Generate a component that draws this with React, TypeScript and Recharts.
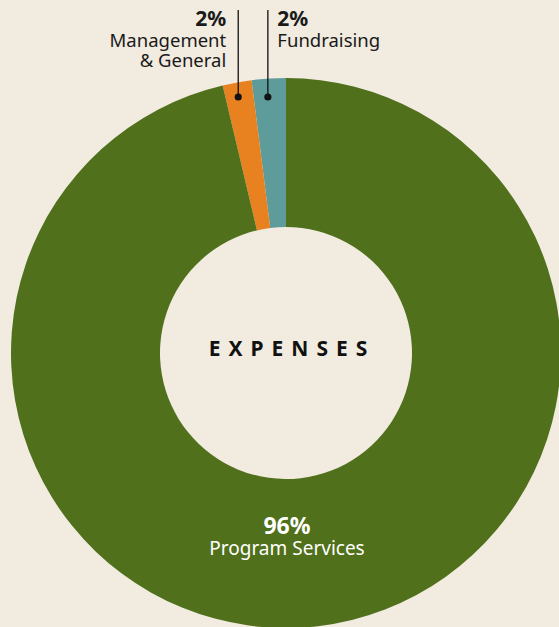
import React from "react";
import { PieChart, Pie, Cell } from "recharts";

const categories = ["Fundraising", "Management & General", "Program Services"];
const values = [2, 1.7, 96.3];
const pctLabels = ["2%", "2%", "96%"];
const colors = ["#5e9c9c", "#e8811f", "#50701b"];
const centerTitle = "EXPENSES";

const data = categories.map((name, i) => ({ name, value: values[i] }));

const RADIAN = Math.PI / 180;
const FONT = "'Noto Sans', sans-serif";

const renderLabel = (props: any) => {
  const { cx, cy, midAngle, innerRadius, outerRadius, index } = props;
  if (index === 2) {
    const r = (innerRadius + outerRadius) / 2;
    const y = cy + r;
    return (
      <g>
        <text x={cx + 6} y={cy + 3} textAnchor="middle" fill="#111" fontFamily={FONT} fontWeight={700} fontSize={21} style={{ letterSpacing: 8 }}>
          {centerTitle}
        </text>
        <text x={cx + 1} y={y - 20} textAnchor="middle" fill="#fff" fontFamily={FONT} fontWeight={700} fontSize={23}>
          {pctLabels[index]}
        </text>
        <text x={cx + 1} y={y + 1} textAnchor="middle" fill="#fff" fontFamily={FONT} fontSize={19}>
          {categories[index]}
        </text>
      </g>
    );
  }
  const r = outerRadius - 18;
  const dx = cx + r * Math.cos(-midAngle * RADIAN) - 2;
  const dy = cy - outerRadius + 19;
  const left = index === 1;
  const tx = left ? dx - 12 : dx + 9.5;
  const anchor = left ? "end" : "start";
  const lines = left ? ["Management", "& General"] : [categories[index]];
  return (
    <g>
      <line x1={dx} y1={10} x2={dx} y2={dy} stroke="#111" strokeWidth={1.3} />
      <circle cx={dx} cy={dy} r={3.6} fill="#111" />
      <text x={tx} y={26} textAnchor={anchor} fill="#1a1a1a" fontFamily={FONT} fontWeight={700} fontSize={21}>
        {pctLabels[index]}
      </text>
      {lines.map((t, i) => (
        <text key={i} x={tx} y={47 + i * 20} textAnchor={anchor} fill="#1a1a1a" fontFamily={FONT} fontSize={18.5}>
          {t}
        </text>
      ))}
    </g>
  );
};

export default function App() {
  return (
    <div style={{ position: "fixed", left: 0, top: 0, width: 559, height: 627, background: "#f1ebe0" }}>
      <PieChart width={559} height={627} margin={{ top: 0, right: 0, bottom: 0, left: 0 }}>
        <Pie
          data={data}
          dataKey="value"
          cx={286}
          cy={353}
          innerRadius={126}
          outerRadius={275}
          startAngle={90}
          endAngle={450}
          stroke="none"
          labelLine={false}
          label={renderLabel}
          isAnimationActive={false}
        >
          {data.map((d, i) => (
            <Cell key={d.name} fill={colors[i]} />
          ))}
        </Pie>
      </PieChart>
    </div>
  );
}
